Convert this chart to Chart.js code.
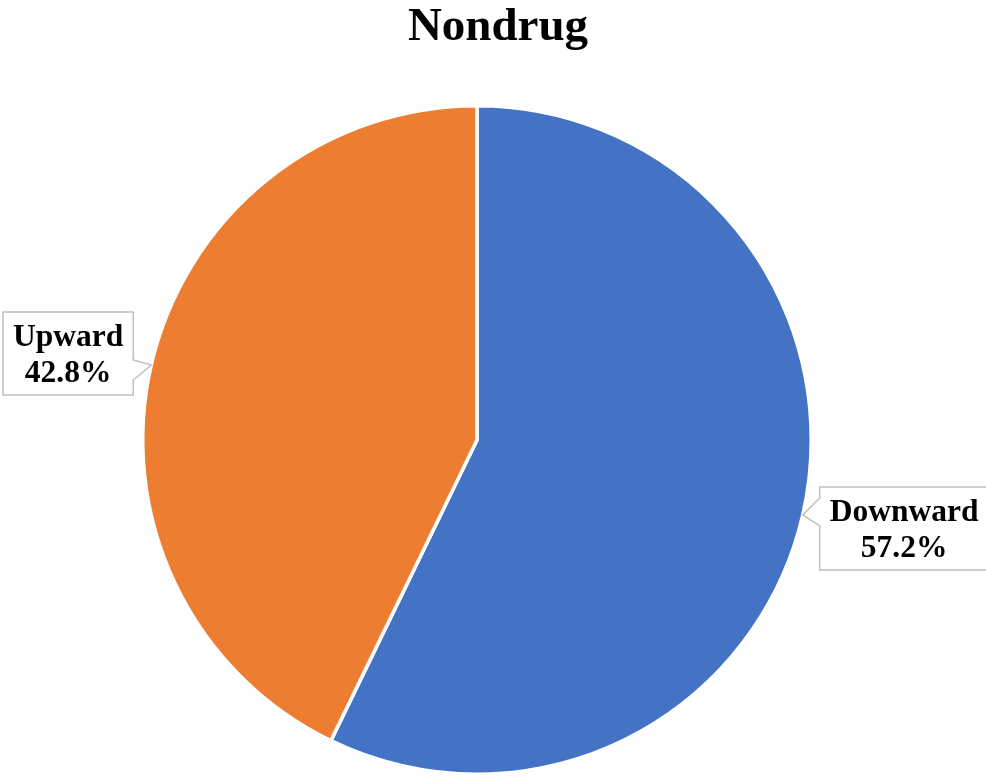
<!DOCTYPE html>
<html>
<head>
<meta charset="utf-8">
<script src="https://cdn.jsdelivr.net/npm/chart.js@4.4.0/dist/chart.umd.min.js"></script>
<style>
  html, body { margin: 0; padding: 0; background: #fff; }
  #wrap { width: 986px; height: 779px; }
</style>
</head>
<body>
<div id="wrap"><canvas id="pie"></canvas></div>
<script>
const labels = ['Downward', 'Upward'];
const shares = [57.2, 42.8];
const sliceColors = ['#4472C4', '#ED7D31'];
const chartTitle = 'Nondrug';

const serif = "'Liberation Serif', 'Times New Roman', serif";

// title centred on the whole canvas, not on the chart area
const pageTitle = {
  id: 'pageTitle',
  afterDraw(chart) {
    const ctx = chart.ctx;
    ctx.save();
    ctx.font = 'bold 47px ' + serif;
    ctx.fillStyle = '#000';
    ctx.textAlign = 'center';
    ctx.textBaseline = 'alphabetic';
    ctx.fillText(chartTitle, chart.width / 2 + 5, 40);
    ctx.restore();
  }
};

// callout boxes with a little pointer to each slice
const callouts = {
  id: 'callouts',
  afterDatasetsDraw(chart) {
    const ctx = chart.ctx;
    const arcs = chart.getDatasetMeta(0).data;
    ctx.save();
    ctx.font = 'bold 31.5px ' + serif;
    arcs.forEach((arc, i) => {
      const mid = (arc.startAngle + arc.endAngle) / 2;
      const tx = arc.x + Math.cos(mid) * arc.outerRadius;
      const ty = arc.y + Math.sin(mid) * arc.outerRadius;
      const lines = [labels[i], shares[i].toFixed(1) + '%'];
      const w = Math.max(...lines.map(s => ctx.measureText(s).width)) + 20;
      const h = 83;
      const left = Math.cos(mid) < 0;
      let bx, by;
      if (left) {
        bx = tx - 18 - w;
        by = ty - 53;
      } else {
        bx = tx + 17;
        by = ty - 28;
      }
      ctx.beginPath();
      if (left) {
        ctx.moveTo(bx, by);
        ctx.lineTo(bx + w, by);
        ctx.lineTo(bx + w, ty - 5);
        ctx.lineTo(tx, ty);
        ctx.lineTo(bx + w, ty + 15);
        ctx.lineTo(bx + w, by + h);
        ctx.lineTo(bx, by + h);
      } else {
        ctx.moveTo(bx, by);
        ctx.lineTo(bx + w, by);
        ctx.lineTo(bx + w, by + h);
        ctx.lineTo(bx, by + h);
        ctx.lineTo(bx, ty + 11);
        ctx.lineTo(tx, ty);
        ctx.lineTo(bx, ty - 17);
      }
      ctx.closePath();
      ctx.fillStyle = '#fff';
      ctx.fill();
      ctx.strokeStyle = '#BFBFBF';
      ctx.lineWidth = 1.5;
      ctx.stroke();
      ctx.fillStyle = '#000';
      ctx.textAlign = 'center';
      ctx.textBaseline = 'alphabetic';
      ctx.fillText(lines[0], bx + w / 2, by + 34);
      ctx.fillText(lines[1], bx + w / 2, by + 70);
    });
    ctx.restore();
  }
};

new Chart(document.getElementById('pie'), {
  type: 'pie',
  data: {
    labels: labels,
    datasets: [{
      data: shares,
      backgroundColor: sliceColors,
      borderColor: '#fff',
      borderWidth: 3.5
    }]
  },
  options: {
    responsive: true,
    maintainAspectRatio: false,
    animation: false,
    layout: { padding: { top: 104, bottom: 3, left: 100, right: 132 } },
    plugins: {
      legend: { display: false },
      tooltip: { enabled: false },
      title: { display: false }
    }
  },
  plugins: [callouts, pageTitle]
});
</script>
</body>
</html>
